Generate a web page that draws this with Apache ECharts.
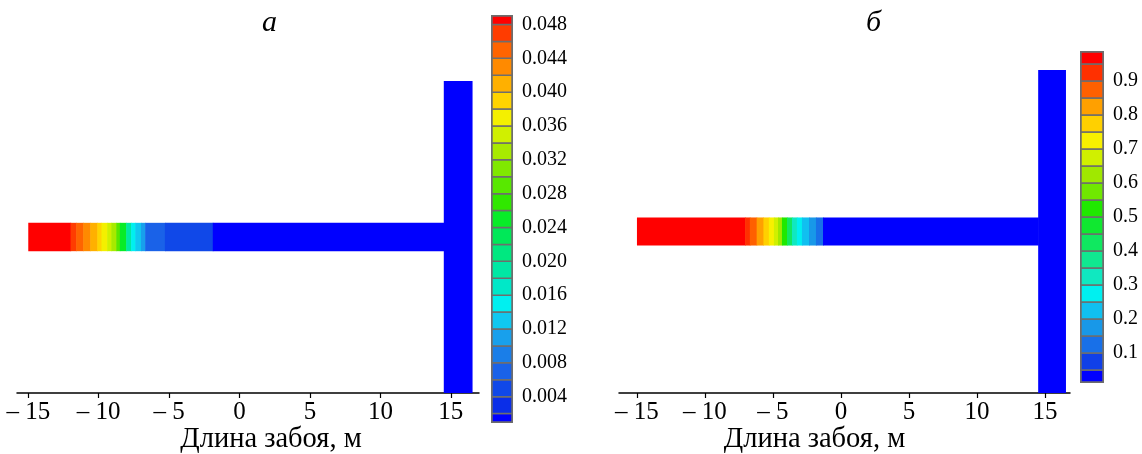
<!DOCTYPE html>
<html><head><meta charset="utf-8">
<script src="https://cdn.jsdelivr.net/npm/echarts@6/dist/echarts.min.js"></script>
<style>html,body{margin:0;padding:0;background:#fff}#c{width:1142px;height:454px}</style>
</head><body><div id="c"></div>
<script>
// ---------- data ----------
const xTicks = [-15, -10, -5, 0, 5, 10, 15];
const xName = 'Длина забоя, м';
const panelTitles = ['а', 'б'];

// panel а: drift (horizontal) segments along the face length
const aSegStart = [-15, -12, -11.6, -11.1, -10.6, -10.1, -9.8, -9.4, -9.1, -8.75, -8.5, -8.05, -7.7, -7.4, -7.0, -6.7, -5.3, -1.9];
const aSegEnd   = [-12, -11.6, -11.1, -10.6, -10.1, -9.8, -9.4, -9.1, -8.75, -8.5, -8.05, -7.7, -7.4, -7.0, -6.7, -5.3, -1.9, 14.5];
const aSegValue = [0.0485, 0.047, 0.045, 0.043, 0.041, 0.039, 0.037, 0.035, 0.033, 0.029, 0.025, 0.019, 0.015, 0.013, 0.011, 0.007, 0.005, 0.0015];
const aDriftY = [10, 12];
const aShaftX = [14.5, 16.5];
const aShaftY = [0, 22];
const aShaftValue = 0.0015;
const aBandEdges = [0.001, 0.002, 0.004, 0.006, 0.008, 0.010, 0.012, 0.014, 0.016, 0.018, 0.020, 0.022, 0.024, 0.026, 0.028, 0.030, 0.032, 0.034, 0.036, 0.038, 0.040, 0.042, 0.044, 0.046, 0.048, 0.049];
const aBandColors = ['#0000ff','#0a2ee8','#1048e8','#1a62e8','#1a7ee8','#18a0ec','#10c8f0','#00f0f0','#00e8c8','#00e8a4','#00e880','#00e858','#08ec28','#30e800','#58e800','#80e800','#a8ea00','#d0f000','#f4f000','#ffd400','#ffb000','#ff8a00','#ff6400','#ff3c00','#ff0000'];
const aBarTicks = [0.004, 0.008, 0.012, 0.016, 0.020, 0.024, 0.028, 0.032, 0.036, 0.040, 0.044, 0.048];

// panel б
const bSegStart = [-15, -7.05, -6.7, -6.2, -5.7, -5.3, -4.93, -4.63, -4.34, -3.97, -3.6, -3.24, -2.87, -2.35, -1.84, -1.32];
const bSegEnd   = [-7.05, -6.7, -6.2, -5.7, -5.3, -4.93, -4.63, -4.34, -3.97, -3.6, -3.24, -2.87, -2.35, -1.84, -1.32, 14.5];
const bSegValue = [0.96, 0.93, 0.88, 0.83, 0.78, 0.73, 0.68, 0.60, 0.53, 0.43, 0.33, 0.27, 0.22, 0.17, 0.12, 0.03];
const bDriftY = [10.5, 12.5];
const bShaftX = [14.5, 16.5];
const bShaftY = [0, 23];
const bShaftValue = 0.03;
const bBandEdges = [0.015, 0.05, 0.10, 0.15, 0.20, 0.25, 0.30, 0.35, 0.40, 0.45, 0.50, 0.55, 0.60, 0.65, 0.70, 0.75, 0.80, 0.85, 0.90, 0.95, 0.985];
const bBandColors = ['#0000ff','#1040e8','#1870e8','#1898e8','#10c0f0','#00f0f0','#10e8c0','#10e890','#10e860','#10e830','#20e800','#70e800','#a0e800','#d0f000','#f8f000','#ffd000','#ffa000','#ff6000','#ff3000','#ff0000'];
const bBarTicks = [0.1, 0.2, 0.3, 0.4, 0.5, 0.6, 0.7, 0.8, 0.9];

// ---------- helpers ----------
const FONT = 'Liberation Serif';
function colorFor(v, edges, colors) {
  for (let i = 0; i < colors.length; i++) if (v < edges[i + 1]) return colors[i];
  return colors[colors.length - 1];
}
function fieldData(segS, segE, segV, driftY, shaftX, shaftY, shaftV) {
  const d = segS.map((s, i) => [s, segE[i], driftY[0], driftY[1], segV[i]]);
  d.push([shaftX[0], shaftX[1], shaftY[0], shaftY[1], shaftV]);
  return d;
}
function fieldSeries(idx, data, edges, colors) {
  return {
    type: 'custom', xAxisIndex: idx, yAxisIndex: idx, data: data, silent: true,
    renderItem: function (params, api) {
      const p0 = api.coord([api.value(0), api.value(3)]);
      const p1 = api.coord([api.value(1), api.value(2)]);
      return { type: 'rect', shape: { x: p0[0], y: p0[1], width: p1[0] - p0[0] + 0.6, height: p1[1] - p0[1] },
        style: { fill: colorFor(api.value(4), edges, colors) } };
    }
  };
}
function barSeries(idx, edges, colors) {
  const data = colors.map((c, i) => [edges[i], edges[i + 1], i]);
  return {
    type: 'custom', xAxisIndex: idx, yAxisIndex: idx, data: data, silent: true,
    renderItem: function (params, api) {
      const p0 = api.coord([0, api.value(1)]);
      const p1 = api.coord([1, api.value(0)]);
      return { type: 'rect', shape: { x: p0[0], y: p0[1], width: p1[0] - p0[0], height: p1[1] - p0[1] },
        style: { fill: colors[api.value(2)], stroke: '#6e6e6e', lineWidth: 1.5 } };
    }
  };
}
function xAxisFor(idx, min, max, padding) {
  return {
    gridIndex: idx, type: 'value', min: min, max: max,
    axisLine: { onZero: false, lineStyle: { color: '#000', width: 1.5 } },
    axisTick: { customValues: xTicks, length: 5, lineStyle: { color: '#000', width: 1.2 } },
    axisLabel: { customValues: xTicks, color: '#000', fontFamily: FONT, fontSize: 25, margin: 7,
      formatter: v => v < 0 ? '– ' + Math.abs(v) : String(v) },
    splitLine: { show: false },
    name: xName, nameLocation: 'middle', nameGap: 32, nameMoveOverlap: false,
    nameTextStyle: { color: '#000', fontFamily: FONT, fontSize: 28.5, padding: padding }
  };
}
function barYAxis(idx, min, max, ticks, dec) {
  return {
    gridIndex: idx, type: 'value', position: 'right', min: min, max: max,
    axisLine: { show: false }, axisTick: { show: false }, splitLine: { show: false },
    axisLabel: { customValues: ticks, color: '#000', fontFamily: FONT, fontSize: 20, margin: 10,
      formatter: v => v.toFixed(dec) }
  };
}

const chart = echarts.init(document.getElementById('c'), null, { renderer: 'canvas' });
chart.setOption({
  backgroundColor: '#fff',
  animation: false,
  title: [
    { text: panelTitles[0], left: 262, top: 8, padding: 0, textStyle: { fontFamily: FONT, fontStyle: 'italic', fontWeight: 'normal', fontSize: 30, color: '#000' } },
    { text: panelTitles[1], left: 866, top: 8, padding: 0, textStyle: { fontFamily: FONT, fontStyle: 'italic', fontWeight: 'normal', fontSize: 30, color: '#000' } }
  ],
  grid: [
    { left: 17, width: 462, top: 81, height: 312, outerBoundsMode: 'none', containLabel: false },
    { left: 619, width: 451, top: 70, height: 323, outerBoundsMode: 'none', containLabel: false },
    { left: 492, width: 20, top: 16, height: 406, show: true, borderColor: '#6e6e6e', borderWidth: 2, outerBoundsMode: 'none', containLabel: false },
    { left: 1081, width: 22, top: 52, height: 330, show: true, borderColor: '#6e6e6e', borderWidth: 2, outerBoundsMode: 'none', containLabel: false }
  ],
  xAxis: [
    xAxisFor(0, -15.8, 17, [0, 0, 0, 46]),
    xAxisFor(1, -16.32, 16.84, [0, 60, 0, 0]),
    { gridIndex: 2, type: 'value', min: 0, max: 1, show: false },
    { gridIndex: 3, type: 'value', min: 0, max: 1, show: false }
  ],
  yAxis: [
    { gridIndex: 0, type: 'value', min: 0, max: 22, show: false },
    { gridIndex: 1, type: 'value', min: 0, max: 23, show: false },
    barYAxis(2, aBandEdges[0], aBandEdges[aBandEdges.length - 1], aBarTicks, 3),
    barYAxis(3, bBandEdges[0], bBandEdges[bBandEdges.length - 1], bBarTicks, 1)
  ],
  series: [
    fieldSeries(0, fieldData(aSegStart, aSegEnd, aSegValue, aDriftY, aShaftX, aShaftY, aShaftValue), aBandEdges, aBandColors),
    fieldSeries(1, fieldData(bSegStart, bSegEnd, bSegValue, bDriftY, bShaftX, bShaftY, bShaftValue), bBandEdges, bBandColors),
    barSeries(2, aBandEdges, aBandColors),
    barSeries(3, bBandEdges, bBandColors)
  ]
});
</script>
</body></html>
